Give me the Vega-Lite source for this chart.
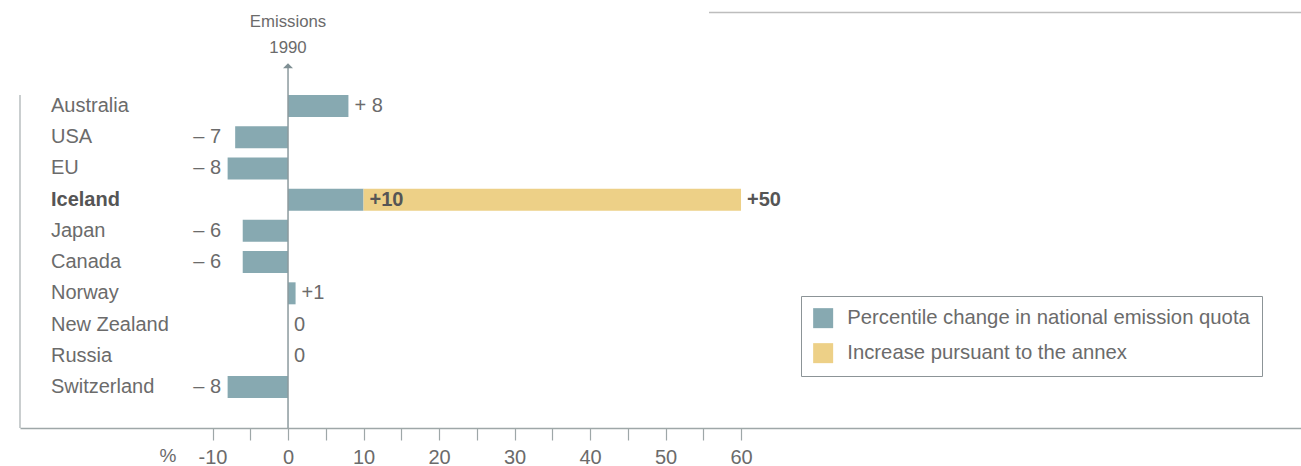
{
  "$schema": "https://vega.github.io/schema/vega-lite/v6.json",
  "width": 1281,
  "height": 428,
  "autosize": {"type": "none"},
  "padding": {"left": 20, "top": 0, "right": 0, "bottom": 38},
  "background": "white",
  "config": {
    "view": {"stroke": null},
    "font": "Liberation Sans",
    "text": {"font": "Liberation Sans", "color": "#6b6b6b"}
  },
  "datasets": {
    "bars": [
      {"country": "Australia", "row": 1, "series": "Percentile change in national emission quota", "start": 0, "end": 8},
      {"country": "USA", "row": 2, "series": "Percentile change in national emission quota", "start": 0, "end": -7},
      {"country": "EU", "row": 3, "series": "Percentile change in national emission quota", "start": 0, "end": -8},
      {"country": "Iceland", "row": 4, "series": "Percentile change in national emission quota", "start": 0, "end": 10},
      {"country": "Iceland", "row": 4, "series": "Increase pursuant to the annex", "start": 10, "end": 60},
      {"country": "Japan", "row": 5, "series": "Percentile change in national emission quota", "start": 0, "end": -6},
      {"country": "Canada", "row": 6, "series": "Percentile change in national emission quota", "start": 0, "end": -6},
      {"country": "Norway", "row": 7, "series": "Percentile change in national emission quota", "start": 0, "end": 1},
      {"country": "Switzerland", "row": 10, "series": "Percentile change in national emission quota", "start": 0, "end": -8}
    ],
    "countries": [
      {"country": "Australia", "row": 1},
      {"country": "USA", "row": 2},
      {"country": "EU", "row": 3},
      {"country": "Iceland", "row": 4},
      {"country": "Japan", "row": 5},
      {"country": "Canada", "row": 6},
      {"country": "Norway", "row": 7},
      {"country": "New Zealand", "row": 8},
      {"country": "Russia", "row": 9},
      {"country": "Switzerland", "row": 10}
    ],
    "labels": [
      {"row": 1, "value": 8, "label": "+ 8"},
      {"row": 2, "value": -7, "label": "– 7"},
      {"row": 3, "value": -8, "label": "– 8"},
      {"row": 4, "value": 10, "label": "+10"},
      {"row": 4, "value": 60, "label": "+50"},
      {"row": 5, "value": -6, "label": "– 6"},
      {"row": 6, "value": -6, "label": "– 6"},
      {"row": 7, "value": 1, "label": "+1"},
      {"row": 8, "value": 0, "label": "0"},
      {"row": 9, "value": 0, "label": "0"},
      {"row": 10, "value": -8, "label": "– 8"}
    ],
    "one": [{}]
  },
  "layer": [
    {
      "data": {"name": "bars"},
      "mark": {"type": "bar", "orient": "horizontal", "size": 22},
      "encoding": {
        "y": {"field": "row", "type": "quantitative", "scale": {"domain": [-2.395, 11.314], "reverse": true, "nice": false, "zero": false, "padding": 0}, "axis": null},
        "x": {"field": "start", "type": "quantitative",
          "scale": {"domain": [-35.5, 134.17], "nice": false, "zero": false, "padding": 0},
          "axis": {
            "values": [-10, -5, 0, 5, 10, 15, 20, 25, 30, 35, 40, 45, 50, 55, 60],
            "labelExpr": "datum.value % 10 === 0 ? '' + datum.value : ''",
            "title": null, "grid": false,
            "domainColor": "#9ea7a8", "domainWidth": 1.5,
            "tickColor": "#9ea7a8", "tickSize": 12, "tickWidth": 1.2,
            "labelFontSize": 20, "labelColor": "#6b6b6b", "labelPadding": 7,
            "labelFont": "Liberation Sans"
          }},
        "x2": {"field": "end"},
        "color": {"field": "series", "type": "nominal",
          "scale": {"domain": ["Percentile change in national emission quota", "Increase pursuant to the annex"], "range": ["#87a9b1", "#edd087"]},
          "legend": {
            "title": null, "orient": "none", "legendX": 781, "legendY": 296,
            "strokeColor": "#8c9497", "fillColor": "white", "padding": 12,
            "symbolType": "square", "symbolSize": 400, "symbolStrokeWidth": 0,
            "labelFontSize": 20.3, "labelColor": "#6b6b6b", "labelOffset": 14,
            "rowPadding": 14, "labelFont": "Liberation Sans", "labelLimit": 600
          }}
      }
    },
    {
      "data": {"name": "one"},
      "mark": {"type": "rule", "color": "#8c9a9e", "strokeWidth": 1.5},
      "encoding": {
        "x": {"datum": 0},
        "y": {"datum": -0.23},
        "y2": {"datum": 11.314}
      }
    },
    {
      "data": {"name": "one"},
      "mark": {"type": "point", "shape": "M-1,0.5L0,-0.5L1,0.5Z", "filled": true, "size": 100, "color": "#7f8f94", "opacity": 1},
      "encoding": {
        "x": {"datum": 0},
        "y": {"datum": -0.288}
      }
    },
    {
      "data": {"name": "one"},
      "mark": {"type": "rule", "color": "#a6adaf", "strokeWidth": 1.2},
      "encoding": {
        "x": {"datum": -35.5},
        "y": {"datum": 0.648},
        "y2": {"datum": 11.314}
      }
    },
    {
      "data": {"name": "one"},
      "mark": {"type": "rule", "color": "#bdbdbd", "strokeWidth": 1.5},
      "encoding": {
        "x": {"datum": 55.76},
        "x2": {"datum": 134.17},
        "y": {"datum": -1.995}
      }
    },
    {
      "data": {"name": "one"},
      "mark": {"type": "text", "fontSize": 16.8, "align": "center", "baseline": "middle", "color": "#6b6b6b"},
      "encoding": {
        "x": {"datum": 0},
        "y": {"datum": -1.69},
        "text": {"value": "Emissions"}
      }
    },
    {
      "data": {"name": "one"},
      "mark": {"type": "text", "fontSize": 16.8, "align": "center", "baseline": "middle", "color": "#6b6b6b"},
      "encoding": {
        "x": {"datum": 0},
        "y": {"datum": -0.86},
        "text": {"value": "1990"}
      }
    },
    {
      "data": {"name": "one"},
      "mark": {"type": "text", "fontSize": 19, "align": "center", "baseline": "bottom", "color": "#6b6b6b"},
      "encoding": {
        "x": {"datum": -15.9},
        "y": {"datum": 12.53},
        "text": {"value": "%"}
      }
    },
    {
      "data": {"name": "countries"},
      "transform": [{"filter": "datum.country !== 'Iceland'"}],
      "mark": {"type": "text", "fontSize": 20, "align": "left", "baseline": "middle", "color": "#6b6b6b"},
      "encoding": {
        "x": {"datum": -31.4},
        "y": {"field": "row", "type": "quantitative"},
        "text": {"field": "country"}
      }
    },
    {
      "data": {"name": "countries"},
      "transform": [{"filter": "datum.country === 'Iceland'"}],
      "mark": {"type": "text", "fontSize": 20, "align": "left", "baseline": "middle", "fontWeight": "bold", "color": "#555555"},
      "encoding": {
        "x": {"datum": -31.4},
        "y": {"field": "row", "type": "quantitative"},
        "text": {"field": "country"}
      }
    },
    {
      "data": {"name": "labels"},
      "transform": [{"filter": "datum.value >= 0 && datum.row !== 4"}],
      "mark": {"type": "text", "fontSize": 20, "align": "left", "baseline": "middle", "dx": 6, "color": "#6b6b6b"},
      "encoding": {
        "x": {"field": "value", "type": "quantitative"},
        "y": {"field": "row", "type": "quantitative"},
        "text": {"field": "label"}
      }
    },
    {
      "data": {"name": "labels"},
      "transform": [{"filter": "datum.row === 4"}],
      "mark": {"type": "text", "fontSize": 20, "align": "left", "baseline": "middle", "dx": 6, "fontWeight": "bold", "color": "#555555"},
      "encoding": {
        "x": {"field": "value", "type": "quantitative"},
        "y": {"field": "row", "type": "quantitative"},
        "text": {"field": "label"}
      }
    },
    {
      "data": {"name": "labels"},
      "transform": [{"filter": "datum.value < 0"}],
      "mark": {"type": "text", "fontSize": 20, "align": "right", "baseline": "middle", "color": "#6b6b6b"},
      "encoding": {
        "x": {"datum": -8.87},
        "y": {"field": "row", "type": "quantitative"},
        "text": {"field": "label"}
      }
    }
  ]
}
